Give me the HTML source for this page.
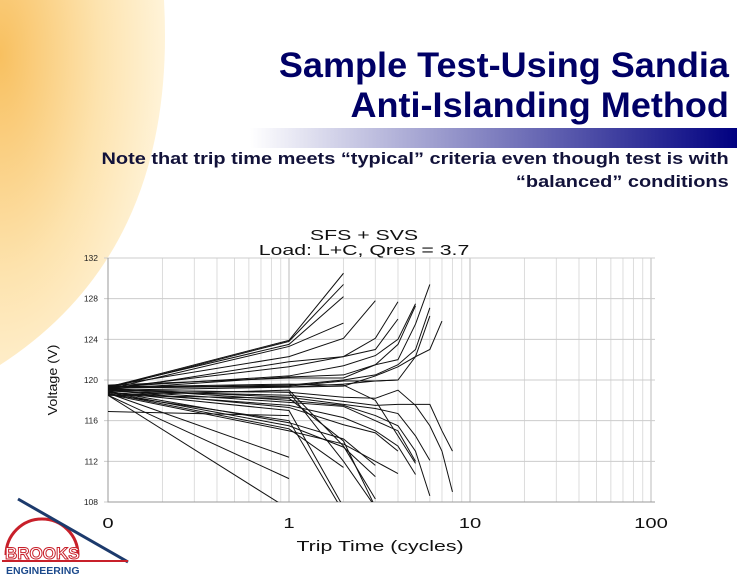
<!DOCTYPE html>
<html><head><meta charset="utf-8"><style>
body{margin:0;width:737px;height:576px;overflow:hidden;background:#fff;font-family:"Liberation Sans",sans-serif;position:relative}
.t{position:absolute;right:8px;color:#000066;font-weight:bold;font-size:35px;text-align:right;line-height:40px;transform:scaleX(1.03);transform-origin:right top;white-space:nowrap}
.s{position:absolute;right:8px;color:#12123a;font-weight:bold;font-size:17px;text-align:right;line-height:23px;transform:scaleX(1.173);transform-origin:right top;white-space:nowrap}
</style></head><body>
<svg width="737" height="576" style="position:absolute;left:0;top:0">
<defs>
<radialGradient id="rg" cx="0" cy="0.15" r="1">
<stop offset="0" stop-color="#f8c060"/><stop offset="0.6" stop-color="#fde3ae"/><stop offset="1" stop-color="#fff3d8"/></radialGradient>
<linearGradient id="bar" x1="0" x2="1"><stop offset="0" stop-color="#fff"/><stop offset="1" stop-color="#000080"/></linearGradient>
</defs>
<path d="M0,0 L164,0 Q178,250 0,365 Z" fill="url(#rg)"/>
<rect x="250" y="128" width="487" height="20" fill="url(#bar)"/>
<g>
<path d="M6,555 A36,36 0 0 1 78,555" fill="none" stroke="#c8202a" stroke-width="3"/>
<line x1="18" y1="499" x2="128" y2="562" stroke="#1c3a6c" stroke-width="3"/>
<line x1="2" y1="561" x2="128" y2="561" stroke="#c8202a" stroke-width="2"/>
<text x="5" y="559" font-family="Liberation Sans" font-size="17" font-weight="bold" fill="#fff" stroke="#c8202a" stroke-width="1">BROOKS</text>
<text x="6" y="574" font-family="Liberation Sans" font-size="10.5" font-weight="bold" fill="#1c4a8c">ENGINEERING</text>
</g>
</svg>
<div class="t" style="top:46px">Sample Test-Using Sandia<br>Anti-Islanding Method</div>
<div class="s" style="top:147px">Note that trip time meets “typical” criteria even though test is with<br>“balanced” conditions</div>
<svg id="chart" width="737" height="576" style="position:absolute;left:0;top:0"></svg>
<script>
const yTicks=[108,112,116,120,124,128,132];
const xTickVals=[0.1,1,10,100];
const xTickLabels=["0","1","10","100"];
const startV=[119.3,119.2,119.3,119.1,119.4,119.0,119.2,119.3,119.1,119.5,119.2,119.0,119.4,119.2,119.0,118.9,119.1,119.2,119.0,118.8,119.0,118.9,118.8,118.7,118.6,118.7,118.5,118.5,119.0,118.8,118.6,118.5,116.9,118.5,119.3];
const seriesV=[
[123.9,130.5],[123.8,129.4],[123.5,128.2],[123.3,125.6],
[122.3,124.1,127.8],[121.8,122.3,124.1,127.7],[121.3,122.3,123.0,126.0],
[120.4,121.4,122.4,124.0,127.5],[120.3,120.5,121.5,123.5,127.3],
[120.2,120.2,121.5,122.0,125.5,129.4],[119.5,120.0,120.5,121.5,123.0,127.1],
[119.3,119.4,120.4,121.3,122.3,126.3],[119.3,119.6,119.9,120.0,122.3,123.0,125.8],
[119.4,119.9,119.9,120.0],
[118.8,118.3,118.2,119.0,117.5,115.5,113.0,109.0],
[118.5,117.9,117.5,117.6,117.6,117.6,115.0,113.0],
[118.3,117.6,117.2,116.7,114.5,112.1],
[118.0,117.5,116.5,115.5,113.0,108.6],
[117.8,117.4,116.0,115.0,112.0],
[117.5,116.3,115.0,113.5,110.7],
[117.3,115.6,114.8,113.0],
[115.8,114.2,111.6],[115.5,113.4,110.5],[115.2,111.4],[115.0,113.7,112.0,110.8],
[112.4],[110.3],
[119.0,113.5,108.3],[118.8,112.0,107.5],[117.0,107.5],[116.0,107.0],[118.2,114.0,107.5],
[116.5],[107.3],[119.6,119.5,118.0,114.5,111.8]
];
const X0=108,DEC=181,Y0=502,Y1=258,R=655;
const xs=v=>X0+Math.log10(v/0.1)*DEC;
const ys=v=>Y0-(v-108)/24*(Y0-Y1);
const svg=document.getElementById('chart');const NS='http://www.w3.org/2000/svg';
function mk(t,a,p){const e=document.createElementNS(NS,t);for(const k in a)e.setAttribute(k,a[k]);(p||svg).appendChild(e);return e;}
const defs=mk('defs',{});const cp=mk('clipPath',{id:'cp'},defs);mk('rect',{x:X0,y:Y1,width:R-X0,height:Y0-Y1},cp);
for(let d=0.1;d<100;d*=10){for(let m=2;m<=10;m++){const v=d*m;if(v>100.01)break;const g=mk('line',{x1:xs(v),x2:xs(v),y1:Y1,y2:Y0,stroke:m==10?'#bbb':'#ddd','stroke-width':1});

}}
yTicks.forEach(v=>{const g=mk('line',{x1:X0-4,x2:R,y1:ys(v),y2:ys(v),stroke:'#ccc'});


const t=mk('text',{x:X0-10,y:ys(v)+3,'text-anchor':'end','font-size':8.5,'font-family':'Liberation Sans',fill:'#222'});t.textContent=v;

});
const ax=mk('path',{d:`M${X0},${Y1}V${Y0}H${R}`,fill:'none',stroke:'#999'});


function txt(x,y,s,size,name,sx,rot){const t=mk('text',{x:0,y:0,'text-anchor':'middle','font-size':size,'font-family':'Liberation Sans',fill:'#111',transform:`translate(${x},${y}) ${rot?'rotate(-90)':''} scale(${sx},1)`});t.textContent=s;

return t;}
xTickVals.forEach((v,i)=>{txt(xs(v),528,xTickLabels[i],15,'x-tick-label',1.35);});
const lg=mk('g',{'clip-path':'url(#cp)'});


seriesV.forEach((s,i)=>{const pts=[[0.1,startV[i]]].concat(s.map((v,j)=>[j+1,v]));
const p=mk('polyline',{points:pts.map(q=>xs(q[0])+','+ys(q[1])).join(' '),fill:'none',stroke:'#111','stroke-width':1},lg);

});
txt(364,240,'SFS + SVS',15,'chart-title',1.42);
txt(364,255,'Load: L+C, Qres = 3.7',15,'chart-subtitle',1.42);
txt(380,551,'Trip Time (cycles)',15,'x-axis-title',1.42);
txt(57,380,'Voltage (V)',13,'y-axis-title',1.1,true);
</script>
</body></html>
